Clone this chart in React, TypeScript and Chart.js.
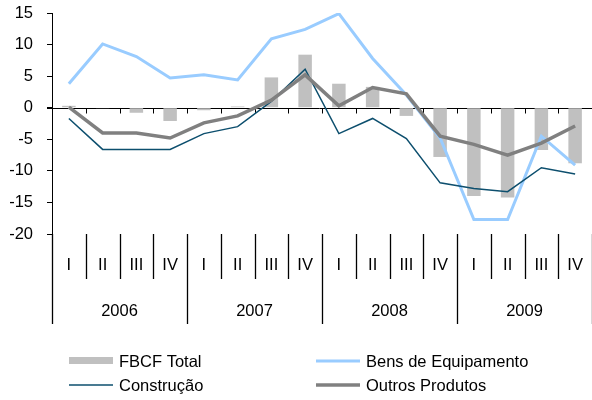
import React, { useEffect, useRef } from "react";
import { Chart, registerables } from "chart.js";

Chart.register(...registerables);

const quarterLabels = ["I", "II", "III", "IV", "I", "II", "III", "IV", "I", "II", "III", "IV", "I", "II", "III", "IV"];
const yearLabels = ["2006", "2007", "2008", "2009"];
const fbcfTotal = [0.3, -0.1, -0.8, -2.1, -0.4, 0.2, 4.8, 8.4, 3.8, 3.3, -1.3, -7.8, -14.0, -14.2, -6.7, -8.8];
const bensEquipamento = [3.8, 10.1, 8.1, 4.7, 5.2, 4.4, 10.9, 12.4, 14.9, 7.8, 2.0, -4.8, -17.7, -17.7, -4.5, -9.1];
const construcao = [-1.7, -6.6, -6.6, -6.6, -4.1, -3.0, 1.0, 6.1, -4.1, -1.7, -4.9, -11.9, -12.8, -13.3, -9.5, -10.5];
const outrosProdutos = [0.1, -4.0, -4.0, -4.8, -2.4, -1.3, 1.2, 5.2, 0.3, 3.2, 2.2, -4.5, -5.8, -7.5, -5.6, -2.9];
const seriesNames = ["FBCF Total", "Bens de Equipamento", "Construção", "Outros Produtos"];

const FONT_FAMILY = '"Liberation Sans", Arial, sans-serif';
const FONT_SIZE = 16.5;

const categoryLabels = quarterLabels.map((q, i) => `${yearLabels[Math.floor(i / 4)]} ${q}`);

const customAxisPlugin = {
  id: "customAxis",
  beforeDatasetsDraw(chart: any) {
    const { ctx, chartArea, scales } = chart;
    const x = scales.x;
    const y = scales.y;
    const n = quarterLabels.length;
    const w = x.getPixelForValue(1) - x.getPixelForValue(0);
    const y0 = Math.round(y.getPixelForValue(0)) + 0.5;
    ctx.save();
    ctx.strokeStyle = "#000";
    ctx.lineWidth = 1;
    ctx.beginPath();
    ctx.moveTo(chartArea.left - 5, y0);
    ctx.lineTo(chartArea.right, y0);
    for (let k = 1; k <= n; k++) {
      const px = Math.round(x.getPixelForValue(k) - w / 2) + 0.5;
      ctx.moveTo(px, y0);
      ctx.lineTo(px, y0 + 5);
    }
    ctx.stroke();
    ctx.restore();
  },
  afterDraw(chart: any) {
    const { ctx, chartArea, scales } = chart;
    const x = scales.x;
    const n = quarterLabels.length;
    const w = x.getPixelForValue(1) - x.getPixelForValue(0);
    const top = chartArea.bottom;
    ctx.save();
    ctx.strokeStyle = "#000";
    ctx.lineWidth = 1.3;
    ctx.beginPath();
    for (let k = 0; k <= n; k++) {
      const px = Math.round(x.getPixelForValue(k) - w / 2) + 0.5;
      const isYear = k % 4 === 0;
      ctx.moveTo(px, top);
      ctx.lineTo(px, isYear ? 324 : 279);
    }
    ctx.stroke();

    ctx.fillStyle = "#000";
    ctx.font = `${FONT_SIZE}px ${FONT_FAMILY}`;
    ctx.textAlign = "center";
    ctx.textBaseline = "middle";
    quarterLabels.forEach((q, i) => {
      ctx.fillText(q, x.getPixelForValue(i), 265);
    });
    yearLabels.forEach((yr, j) => {
      ctx.fillText(yr, x.getPixelForValue(j * 4 + 1.5), 311);
    });

    // legend
    const ds = chart.data.datasets;
    const cols = [69, 316];
    const rows = [361, 385];
    ctx.textAlign = "left";
    ds.forEach((d: any, i: number) => {
      const cx = cols[i % 2];
      const cy = rows[Math.floor(i / 2)];
      if (d.type === "bar") {
        ctx.fillStyle = d.backgroundColor;
        ctx.fillRect(cx, cy - 4, 44, 7);
      } else {
        ctx.strokeStyle = d.borderColor;
        ctx.lineWidth = d.borderWidth;
        ctx.beginPath();
        ctx.moveTo(cx, cy);
        ctx.lineTo(cx + 44, cy);
        ctx.stroke();
      }
      ctx.fillStyle = "#000";
      ctx.fillText(d.label, cx + 50, cy + 1);
    });
    ctx.restore();
  },
};

export default function App() {
  const canvasRef = useRef<HTMLCanvasElement | null>(null);

  useEffect(() => {
    document.body.style.margin = "0";
    const canvas = canvasRef.current;
    if (!canvas) return;
    const chart = new Chart(canvas, {
      type: "bar",
      data: {
        labels: categoryLabels,
        datasets: [
          {
            type: "bar",
            label: seriesNames[0],
            data: fbcfTotal,
            backgroundColor: "#C0C0C0",
            borderWidth: 0,
            barPercentage: 0.4,
            categoryPercentage: 1.0,
            order: 4,
          },
          {
            type: "line",
            label: seriesNames[1],
            data: bensEquipamento,
            borderColor: "#99CCFF",
            backgroundColor: "#99CCFF",
            borderWidth: 3,
            pointRadius: 0,
            tension: 0,
            order: 3,
          },
          {
            type: "line",
            label: seriesNames[2],
            data: construcao,
            borderColor: "#0D4F6E",
            backgroundColor: "#0D4F6E",
            borderWidth: 1.5,
            pointRadius: 0,
            tension: 0,
            order: 2,
          },
          {
            type: "line",
            label: seriesNames[3],
            data: outrosProdutos,
            borderColor: "#808080",
            backgroundColor: "#808080",
            borderWidth: 3.5,
            pointRadius: 0,
            tension: 0,
            order: 1,
          },
        ] as any,
      },
      options: {
        responsive: false,
        animation: false,
        layout: { padding: { top: 13, bottom: 166, left: 0, right: 0 } },
        plugins: {
          legend: { display: false },
          tooltip: { enabled: false },
        },
        scales: {
          x: {
            type: "category",
            display: false,
            offset: true,
          },
          y: {
            min: -20,
            max: 15,
            afterFit(scale: any) {
              scale.width = 52;
              scale.paddingTop = 0;
              scale.paddingBottom = 0;
            },
            ticks: {
              stepSize: 5,
              color: "#000",
              padding: 14,
              font: { family: FONT_FAMILY, size: FONT_SIZE },
            },
            grid: {
              display: true,
              drawOnChartArea: false,
              drawTicks: true,
              tickLength: 5,
              color: "#000",
            },
            border: { display: true, color: "#000", width: 1 },
          },
        },
      },
      plugins: [customAxisPlugin],
    });
    return () => chart.destroy();
  }, []);

  return (
    <div style={{ width: 592, height: 400 }}>
      <canvas ref={canvasRef} width={592} height={400} />
    </div>
  );
}
